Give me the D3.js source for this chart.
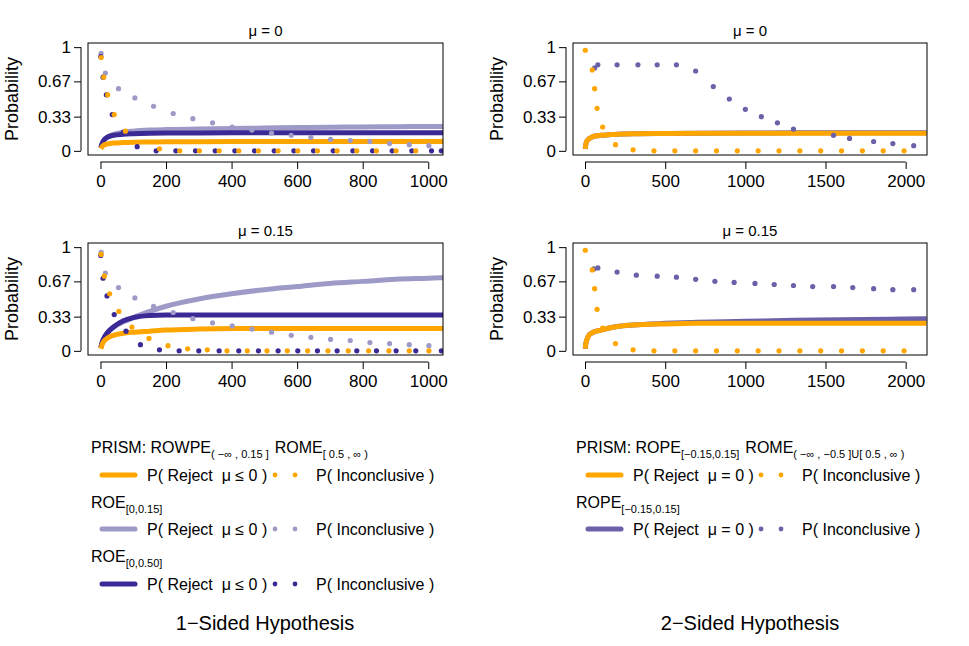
<!DOCTYPE html><html><head><meta charset="utf-8"><script src="https://cdn.jsdelivr.net/npm/d3@7"></script>
<style>body{margin:0;background:#fff}text{font-family:"Liberation Sans",Arial,sans-serif}</style></head><body>
<svg id="c" width="969" height="646"></svg>
<script>
const ORANGE="#FFA500", LILAC="#9E9AC8", DARK="#3B2A96", MID="#6A61A8";
const yTicks=[0,0.33,0.67,1], yTickLabels=["0","0.33","0.67","1"];
const leftXTicks=[0,200,400,600,800,1000], rightXTicks=[0,500,1000,1500,2000];
// curve samples [n, prob]
const lineN=[1,5,10,20,40,70,100,150,200,300,400,500,600,700,800,900,1000,1045];
const tl_orange=[0.02,0.04,0.055,0.065,0.075,0.08,0.083,0.085,0.087,0.088,0.089,0.09,0.09,0.09,0.09,0.09,0.09,0.09];
const tl_lilac=[0.03,0.07,0.1,0.13,0.16,0.18,0.19,0.2,0.205,0.21,0.215,0.22,0.225,0.228,0.23,0.233,0.235,0.236];
const tl_dark=[0.03,0.07,0.1,0.13,0.15,0.16,0.165,0.17,0.172,0.173,0.174,0.175,0.175,0.175,0.175,0.175,0.175,0.175];
const bl_orange=[0.02,0.06,0.09,0.12,0.15,0.17,0.18,0.19,0.2,0.21,0.215,0.215,0.215,0.215,0.215,0.215,0.215,0.215];
const bl_lilac=[0.03,0.08,0.12,0.17,0.23,0.28,0.32,0.38,0.43,0.5,0.55,0.59,0.62,0.65,0.67,0.69,0.7,0.705];
const bl_dark=[0.03,0.08,0.12,0.17,0.23,0.29,0.32,0.34,0.345,0.345,0.345,0.345,0.345,0.345,0.345,0.345,0.345,0.345];
const rLineN=[1,5,10,20,40,70,100,150,200,300,500,700,1000,1300,1600,1900,2130];
const tr_orange=[0.02,0.06,0.09,0.11,0.13,0.145,0.15,0.155,0.16,0.165,0.168,0.17,0.17,0.17,0.17,0.17,0.17];
const tr_mid=[0.02,0.06,0.09,0.11,0.13,0.145,0.15,0.155,0.16,0.165,0.168,0.17,0.172,0.174,0.175,0.175,0.175];
const br_orange=[0.02,0.07,0.1,0.14,0.17,0.19,0.2,0.22,0.235,0.25,0.26,0.265,0.265,0.265,0.265,0.265,0.265];
const br_mid=[0.02,0.07,0.1,0.14,0.17,0.19,0.2,0.22,0.235,0.25,0.265,0.275,0.285,0.295,0.3,0.305,0.31];
// inconclusive dots
const tl_lilacDots=[[2,0.94],[15,0.75],[55,0.6],[105,0.51],[162,0.43],[222,0.36],[282,0.31],[342,0.27],[402,0.23],[462,0.2],[522,0.17],[582,0.15],[642,0.13],[702,0.11],[762,0.1],[822,0.09],[882,0.07],[942,0.06],[1002,0.05]];
const tl_darkDots=[[1,0.91],[8,0.71],[18,0.54],[36,0.35],[70,0.18],[112,0.04],[170,0],[230,0],[290,0],[350,0],[410,0],[470,0],[530,0],[590,0],[650,0],[710,0],[770,0],[830,0],[890,0],[950,0],[1010,0],[1040,0]];
const tl_orangeDots=[[2,0.9],[10,0.71],[22,0.54],[42,0.35],[76,0.19],[180,0.02],[242,0],[302,0],[362,0],[422,0],[482,0],[542,0],[602,0],[662,0],[722,0],[782,0],[842,0],[902,0],[962,0]];
const bl_lilacDots=[[2,0.95],[15,0.75],[55,0.61],[105,0.51],[162,0.43],[222,0.37],[282,0.31],[342,0.27],[402,0.24],[462,0.21],[522,0.18],[582,0.15],[642,0.13],[702,0.11],[762,0.1],[822,0.08],[882,0.07],[942,0.06],[1002,0.05]];
const bl_darkDots=[[1,0.92],[8,0.7],[20,0.53],[42,0.35],[78,0.19],[122,0.06],[180,0.01],[240,0],[300,0],[362,0],[422,0],[482,0],[542,0],[602,0],[662,0],[722,0],[782,0],[842,0],[902,0],[962,0],[1040,0]];
const bl_orangeDots=[[2,0.93],[12,0.72],[28,0.55],[56,0.38],[96,0.23],[148,0.12],[206,0.05],[266,0.02],[326,0.01],[386,0],[448,0],[508,0],[570,0],[632,0],[694,0],[756,0],[818,0],[880,0],[942,0],[1002,0]];
const tr_orangeDots=[[2,0.97],[45,0.78],[60,0.6],[75,0.41],[110,0.23],[190,0.06],[300,0.01],[430,0],[560,0],[690,0],[820,0],[950,0],[1080,0],[1210,0],[1340,0],[1470,0],[1600,0],[1730,0],[1860,0],[1990,0]];
const tr_midDots=[[60,0.8],[80,0.83],[200,0.83],[330,0.83],[450,0.83],[570,0.83],[690,0.77],[800,0.62],[900,0.5],[1000,0.4],[1100,0.33],[1200,0.27],[1300,0.21],[1550,0.15],[1650,0.12],[1800,0.09],[1920,0.07],[2050,0.05]];
const br_orangeDots=[[2,0.97],[45,0.78],[60,0.6],[75,0.4],[110,0.22],[190,0.07],[300,0.01],[430,0],[560,0],[690,0],[820,0],[950,0],[1080,0],[1210,0],[1340,0],[1470,0],[1600,0],[1730,0],[1860,0],[1990,0]];
const br_midDots=[[55,0.79],[80,0.8],[200,0.76],[320,0.73],[450,0.72],[570,0.71],[690,0.69],[810,0.67],[930,0.66],[1060,0.65],[1180,0.64],[1300,0.63],[1420,0.62],[1550,0.62],[1670,0.61],[1800,0.6],[1920,0.59],[2050,0.59]];

const svg=d3.select("#c");
const FF='"Liberation Sans",Arial,sans-serif';
function panel(x0,x1,y0,y1,xdom,xticks,title,lines,dots){
  const x=d3.scaleLinear().domain(xdom).range([x0,x1]);
  const y=d3.scaleLinear().domain([-0.04,1.04]).range([y1,y0]);
  const g=svg.append("g");
  const clip="c"+Math.round(x0)+Math.round(y0);
  g.append("clipPath").attr("id",clip).append("rect").attr("x",x0).attr("y",y0).attr("width",x1-x0).attr("height",y1-y0);
  const pg=g.append("g").attr("clip-path",`url(#${clip})`);
  lines.forEach(([xs,ys,col])=>{
    pg.append("path").datum(xs.map((n,i)=>[n,ys[i]])).attr("fill","none").attr("stroke",col).attr("stroke-width",5)
      .attr("d",d3.line().x(d=>x(d[0])).y(d=>y(d[1])).curve(d3.curveMonotoneX));
  });
  dots.forEach(([pts,col])=>{
    pg.selectAll(null).data(pts).enter().append("circle").attr("cx",d=>x(d[0])).attr("cy",d=>y(d[1])).attr("r",2.6).attr("fill",col);
  });
  g.append("rect").attr("x",x0).attr("y",y0).attr("width",x1-x0).attr("height",y1-y0).attr("fill","none").attr("stroke","#000").attr("stroke-width",1);
  const ya=g.append("g").attr("transform",`translate(${x0-7},0)`).call(d3.axisLeft(y).tickValues(yTicks).tickFormat((d,i)=>yTickLabels[i]).tickSize(7).tickSizeOuter(0));
  ya.select(".domain").attr("d",`M0,${y(0)}V${y(1)}`);
  ya.attr("font-family",FF).selectAll("text").attr("font-size",17).attr("fill","#000").attr("x",-10);
  const xa=g.append("g").attr("transform",`translate(0,${y1+7})`).call(d3.axisBottom(x).tickValues(xticks).tickFormat(d3.format("d")).tickSize(7).tickSizeOuter(0));
  xa.select(".domain").attr("d",`M${x(xticks[0])},0H${x(xticks[xticks.length-1])}`);
  xa.attr("font-family",FF).selectAll("text").attr("font-size",17).attr("fill","#000").attr("y",13);
  g.append("text").attr("x",(x0+x1)/2).attr("y",y0-7).attr("text-anchor","middle").attr("font-size",15).text(title);
  g.append("text").attr("transform",`translate(${x0-70},${(y0+y1)/2}) rotate(-90)`).attr("text-anchor","middle").attr("font-size",18).text("Probability");
}
panel(88,443,43,155,[-38,1045],leftXTicks,"μ = 0",[[lineN,tl_lilac,LILAC],[lineN,tl_dark,DARK],[lineN,tl_orange,ORANGE]],[[tl_lilacDots,LILAC],[tl_darkDots,DARK],[tl_orangeDots,ORANGE]]);
panel(88,443,243,355,[-38,1045],leftXTicks,"μ = 0.15",[[lineN,bl_lilac,LILAC],[lineN,bl_dark,DARK],[lineN,bl_orange,ORANGE]],[[bl_lilacDots,LILAC],[bl_darkDots,DARK],[bl_orangeDots,ORANGE]]);
panel(573,927,43,155,[-75,2133],rightXTicks,"μ = 0",[[rLineN,tr_mid,MID],[rLineN,tr_orange,ORANGE]],[[tr_midDots,MID],[tr_orangeDots,ORANGE]]);
panel(573,927,243,355,[-75,2133],rightXTicks,"μ = 0.15",[[rLineN,br_mid,MID],[rLineN,br_orange,ORANGE]],[[br_midDots,MID],[br_orangeDots,ORANGE]]);

function row(x,y,col,lab){
  svg.append("line").attr("x1",x).attr("x2",x+33).attr("y1",y).attr("y2",y).attr("stroke",col).attr("stroke-width",5).attr("stroke-linecap","round");
  svg.append("text").attr("x",x+45).attr("y",y+6).attr("font-size",16).attr("xml:space","preserve").text(lab);
  [x+173,x+193].forEach(cx=>svg.append("circle").attr("cx",cx).attr("cy",y).attr("r",2.4).attr("fill",col));
  svg.append("text").attr("x",x+214).attr("y",y+6).attr("font-size",16).text("P( Inconclusive )");
}
function ttl(x,y,main,sub,main2,sub2){
  const t=svg.append("text").attr("x",x).attr("y",y).attr("font-size",16);
  t.append("tspan").text(main);
  t.append("tspan").attr("font-size",11).attr("dy",5).text(sub);
  if(main2){t.append("tspan").attr("dy",-5).attr("dx",6).text(main2);t.append("tspan").attr("font-size",11).attr("dy",5).text(sub2);}
}
ttl(91,453,"PRISM: ROWPE","( −∞ , 0.15 ]","ROME","[ 0.5 , ∞ )");
row(102,475,ORANGE,"P( Reject  μ ≤ 0 )");
ttl(91,508,"ROE","[0,0.15]");
row(102,529,LILAC,"P( Reject  μ ≤ 0 )");
ttl(91,562,"ROE","[0,0.50]");
row(102,584,DARK,"P( Reject  μ ≤ 0 )");
ttl(576,453,"PRISM: ROPE","[−0.15,0.15]","ROME","( −∞ , −0.5 ]U[ 0.5 , ∞ )");
row(588,475,ORANGE,"P( Reject  μ = 0 )");
ttl(576,508,"ROPE","[−0.15,0.15]");
row(588,529,MID,"P( Reject  μ = 0 )");
svg.append("text").attr("x",265).attr("y",630).attr("text-anchor","middle").attr("font-size",20).text("1−Sided Hypothesis");
svg.append("text").attr("x",750).attr("y",630).attr("text-anchor","middle").attr("font-size",20).text("2−Sided Hypothesis");
</script></body></html>
